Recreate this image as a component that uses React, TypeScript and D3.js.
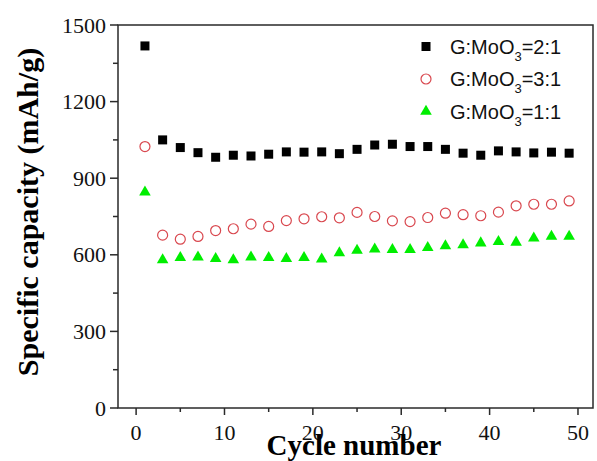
import React from 'react';
import * as d3 from 'd3';

const cycles = [1, 3, 5, 7, 9, 11, 13, 15, 17, 19, 21, 23, 25, 27, 29, 31, 33, 35, 37, 39, 41, 43, 45, 47, 49];
const ratio21 = [1418, 1050, 1020, 1000, 982, 990, 987, 994, 1003, 1002, 1003, 996, 1013, 1030, 1033, 1024, 1024, 1013, 998, 990, 1007, 1003, 999, 1002, 998];
const ratio31 = [1024, 677, 661, 672, 695, 702, 720, 711, 734, 741, 749, 745, 766, 750, 733, 730, 746, 763, 757, 753, 767, 792, 798, 798, 811];
const ratio11 = [845, 580, 589, 591, 585, 580, 591, 589, 585, 589, 583, 607, 617, 622, 620, 620, 628, 635, 639, 646, 651, 649, 665, 672, 672];
const yTicks = [0, 300, 600, 900, 1200, 1500];
const yMinor = [150, 450, 750, 1050, 1350];
const xTicks = [0, 10, 20, 30, 40, 50];
const xMinor = [5, 15, 25, 35, 45];
const legendLabels = ['=2:1', '=3:1', '=1:1'];

const W = 597;
const H = 461;
const left = 118, right = 593, top = 25, bottom = 408;

const x = d3.scaleLinear().domain([-2.05, 51.7]).range([left, right]);
const y = d3.scaleLinear().domain([0, 1500]).range([bottom, top]);

const axisColor = '#2a2a2a';
const serif = '"Liberation Serif", "Times New Roman", serif';
const sans = '"Liberation Sans", Arial, sans-serif';

const RED = '#d9484f';
const GREEN = '#00ee00';

const tri = d3.symbol().type(d3.symbolTriangle).size(58);

function Square({ cx, cy }: { cx: number; cy: number }) {
  return <rect x={cx - 4.5} y={cy - 4.5} width={9} height={9} fill="#000" />;
}
function Circ({ cx, cy }: { cx: number; cy: number }) {
  return <circle cx={cx} cy={cy} r={5} fill="none" stroke={RED} strokeWidth={1.2} />;
}
function Tri({ cx, cy }: { cx: number; cy: number }) {
  return <path d={tri() as string} transform={`translate(${cx},${cy})`} fill={GREEN} />;
}

const markers = [Square, Circ, Tri];

export default function App() {
  const series = [ratio21, ratio31, ratio11];
  return (
    <svg width={W} height={H} style={{ position: 'absolute', left: 0, top: 0, background: '#fff' }}>
      {/* data */}
      {series.map((vals, si) => {
        const M = markers[si];
        return (
          <g key={si}>
            {vals.map((v, i) => (
              <M key={i} cx={x(cycles[i])} cy={y(v)} />
            ))}
          </g>
        );
      })}

      {/* frame */}
      <rect x={left} y={top} width={right - left} height={bottom - top} fill="none" stroke={axisColor} strokeWidth={1.5} />

      {/* y ticks */}
      {yTicks.map(t => (
        <g key={t}>
          <line x1={left - 8} x2={left} y1={y(t)} y2={y(t)} stroke={axisColor} strokeWidth={1.5} />
          <text x={left - 12} y={y(t) + 7.5} textAnchor="end" fontFamily={serif} fontSize={22} fill="#111">{t}</text>
        </g>
      ))}
      {yMinor.map(t => (
        <line key={t} x1={left - 5} x2={left} y1={y(t)} y2={y(t)} stroke={axisColor} strokeWidth={1.5} />
      ))}

      {/* x ticks */}
      {xTicks.map(t => (
        <g key={t}>
          <line x1={x(t)} x2={x(t)} y1={bottom} y2={bottom + 7} stroke={axisColor} strokeWidth={1.5} />
          <text x={x(t)} y={440} textAnchor="middle" fontFamily={serif} fontSize={22} fill="#111">{t}</text>
        </g>
      ))}
      {xMinor.map(t => (
        <line key={t} x1={x(t)} x2={x(t)} y1={bottom} y2={bottom + 4} stroke={axisColor} strokeWidth={1.5} />
      ))}

      {/* axis titles */}
      <text x={354} y={455} textAnchor="middle" fontFamily={serif} fontWeight="bold" fontSize={29} fill="#000">Cycle number</text>
      <text transform="translate(38,212) rotate(-90)" textAnchor="middle" fontFamily={serif} fontWeight="bold" fontSize={30} fill="#000">Specific capacity (mAh/g)</text>

      {/* legend */}
      {legendLabels.map((lab, i) => {
        const M = markers[i];
        const ly = 46.5 + i * 32.5;
        return (
          <g key={lab}>
            <M cx={426} cy={ly} />
            <text x={450} y={ly + 7} fontFamily={sans} fontSize={20} fill="#111">
              G:MoO<tspan fontSize={13} dy={7}>3</tspan><tspan dy={-7}>{lab}</tspan>
            </text>
          </g>
        );
      })}
    </svg>
  );
}
